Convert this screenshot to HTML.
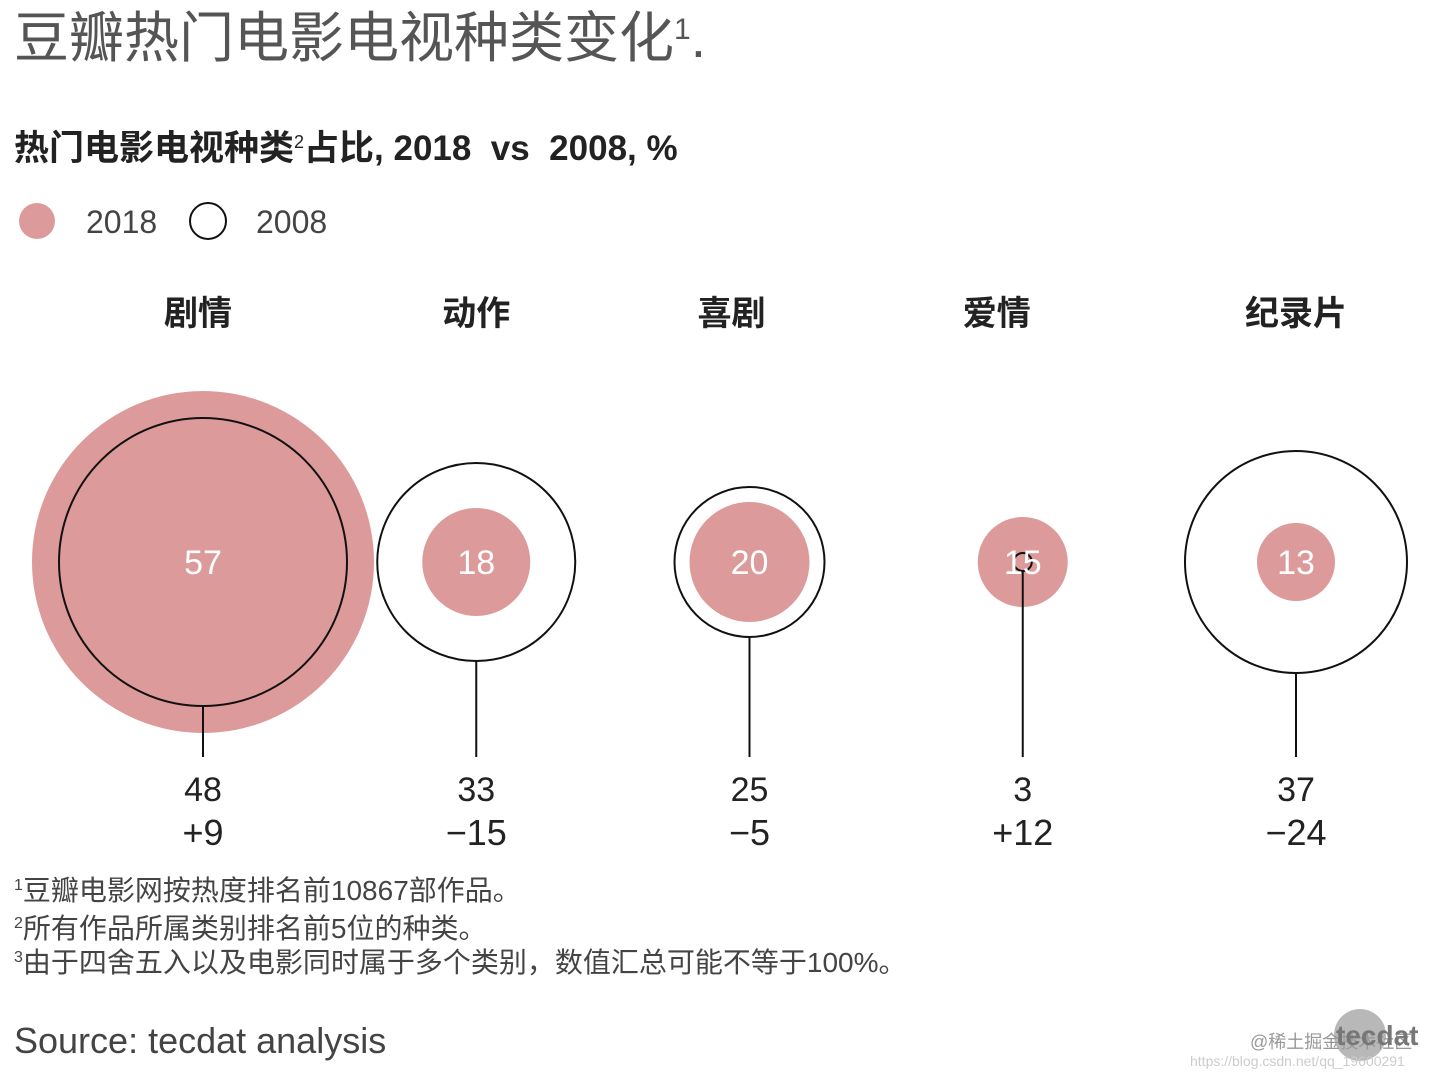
<!DOCTYPE html>
<html><head><meta charset="utf-8"><style>
html,body{margin:0;padding:0;background:#fff;}
body{width:1440px;height:1080px;overflow:hidden;font-family:"Liberation Sans","Noto Sans CJK SC",sans-serif;}
svg text{font-family:"Liberation Sans","Noto Sans CJK SC",sans-serif;}
</style></head><body>
<svg id="chart" width="1440" height="1080" viewBox="0 0 1440 1080" xmlns="http://www.w3.org/2000/svg">
<text x="14" y="57" font-size="55" fill="#555">豆瓣热门电影电视种类变化<tspan font-size="30" dy="-18">1</tspan><tspan dy="18">.</tspan></text>
<text x="14" y="160" font-size="35" font-weight="bold" fill="#222" xml:space="preserve">热门电影电视种类<tspan font-size="18" dy="-12" font-weight="normal">2</tspan><tspan dy="12">占比, 2018  vs  2008, %</tspan></text>
<g>
<circle cx="37" cy="221" r="18" fill="#dd9a9b"/>
<text x="86" y="233" font-size="32" fill="#444">2018</text>
<circle cx="208" cy="221" r="18" fill="none" stroke="#111" stroke-width="2"/>
<text x="256" y="233" font-size="32" fill="#444">2008</text>
</g>
<g id="marks"></g>
<text x="14" y="900" font-size="28" fill="#444"><tspan font-size="16" dy="-10">1</tspan><tspan dy="10">豆瓣电影网按热度排名前10867部作品。</tspan></text>
<text x="14" y="938" font-size="28" fill="#444"><tspan font-size="16" dy="-10">2</tspan><tspan dy="10">所有作品所属类别排名前5位的种类。</tspan></text>
<text x="14" y="972" font-size="28" fill="#444"><tspan font-size="16" dy="-10">3</tspan><tspan dy="10">由于四舍五入以及电影同时属于多个类别，数值汇总可能不等于100%。</tspan></text>
<text x="14" y="1053" font-size="36" fill="#444">Source: tecdat analysis</text>
<circle cx="1360" cy="1035" r="26" fill="#888" opacity="0.6"/>
<text x="1250" y="1048" font-size="18" fill="#999">@稀土掘金技术社区</text>
<text x="1336" y="1045" font-size="28" font-weight="bold" fill="#777">tecdat</text>
<text x="1190" y="1066" font-size="14" fill="#ccc">https://blog.csdn.net/qq_19600291</text>
</svg>
<script>
const categories = ["剧情","动作","喜剧","爱情","纪录片"];
const values2018 = [57,18,20,15,13];
const values2008 = [48,33,25,3,37];
const deltas = ["+9","\u221215","\u22125","+12","\u221224"];

const NS = "http://www.w3.org/2000/svg";
const g = document.getElementById("marks");
function xPos(i){ return 203 + i*273.25; }
function rScale(v){ return 3*v; }
const labelShift = [-5,0,-18,-26,0];
const cy = 562;
function mk(tag, attrs){ const e=document.createElementNS(NS,tag); for(const k in attrs) e.setAttribute(k,attrs[k]); g.appendChild(e); return e; }
categories.forEach((c,i)=>{
  const x=xPos(i);
  const t=mk("text",{x:x+labelShift[i],y:325,"font-size":34,"font-weight":"bold","text-anchor":"middle",fill:"#222"});
  
  
  t.textContent=c;
  const b=mk("circle",{cx:x,cy:cy,r:rScale(values2018[i]),fill:"#dd9a9b"});
  
  
  const o=mk("circle",{cx:x,cy:cy,r:rScale(values2008[i]),fill:"none",stroke:"#111","stroke-width":2});
  
  
  const l=mk("line",{x1:x,y1:cy+rScale(values2008[i]),x2:x,y2:757,stroke:"#111","stroke-width":2});
  
  
  const v=mk("text",{x:x,y:cy+12,"font-size":34,"text-anchor":"middle",fill:"#fff"});
  
  
  v.textContent=values2018[i];
  const v2=mk("text",{x:x,y:801,"font-size":34,"text-anchor":"middle",fill:"#222"});
  
  
  v2.textContent=values2008[i];
  const d=mk("text",{x:x,y:845,"font-size":36,"text-anchor":"middle",fill:"#222"});
  
  
  d.textContent=deltas[i];
});
</script>
</body></html>
